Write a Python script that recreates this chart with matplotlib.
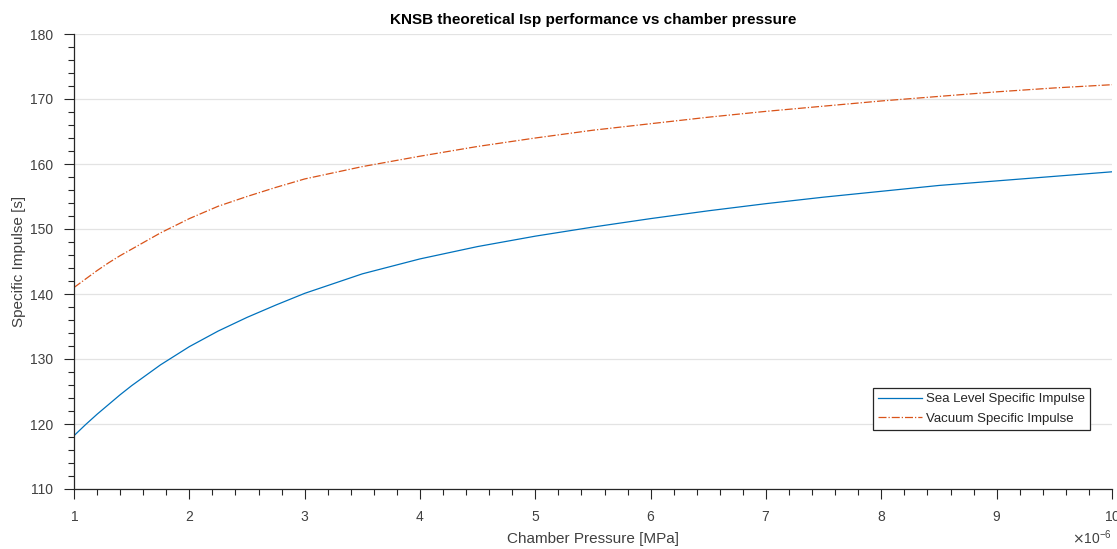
import matplotlib
matplotlib.use("Agg")
import matplotlib.pyplot as plt
import numpy as np
from matplotlib.ticker import MultipleLocator, ScalarFormatter

# chamber pressure (axis shows values x 1e-6)
pc = [1.0, 1.1, 1.2, 1.3, 1.4, 1.5, 1.75, 2.0, 2.25, 2.5, 2.75, 3.0, 3.5, 4.0, 4.5,
      5.0, 5.5, 6.0, 6.5, 7.0, 7.5, 8.0, 8.5, 9.0, 9.5, 10.0]
isp_sea = [118.2, 119.9, 121.5, 123.0, 124.5, 125.9, 129.1, 131.9, 134.3, 136.4, 138.3, 140.1, 143.1,
           145.4, 147.3, 148.9, 150.3, 151.6, 152.8, 153.9, 154.9, 155.8, 156.7, 157.4, 158.1, 158.8]
isp_vac = [141.0, 142.3, 143.6, 144.8, 145.9, 146.9, 149.4, 151.6, 153.5, 155.0, 156.4, 157.7, 159.6,
           161.2, 162.7, 164.0, 165.2, 166.2, 167.2, 168.1, 168.9, 169.7, 170.4, 171.1, 171.7, 172.2]

plt.rcParams['font.family'] = ['Liberation Sans', 'DejaVu Sans']
axcol = '#262626'
txtcol = '#404040'

fig = plt.figure(figsize=(11.17, 5.49), dpi=100)
ax = fig.add_axes([74/1117, 1-489/549, (1112-74)/1117, (489-34)/549])

x = np.array(pc) * 1e-6
ax.plot(x, isp_sea, color='#0072BD', lw=0.9, label='Sea Level Specific Impulse')
ax.plot(x, isp_vac, color='#D95319', lw=0.9, ls='-.', label='Vacuum Specific Impulse')

ax.set_xlim(1e-6, 10e-6)
ax.set_ylim(110, 180)
ax.xaxis.set_major_locator(MultipleLocator(1e-6))
ax.xaxis.set_minor_locator(MultipleLocator(0.2e-6))
ax.yaxis.set_major_locator(MultipleLocator(10))
ax.yaxis.set_minor_locator(MultipleLocator(2))
fmt = ScalarFormatter(useMathText=True)
fmt.set_powerlimits((-6, -6))
ax.xaxis.set_major_formatter(fmt)

ax.grid(axis='y', which='major', color='#e3e3e3', lw=0.9)
ax.set_axisbelow(True)
for s in ['top', 'right']:
    ax.spines[s].set_visible(False)
for s in ['left', 'bottom']:
    ax.spines[s].set_color(axcol)
    ax.spines[s].set_linewidth(0.9)
ax.tick_params(which='major', direction='out', length=7, width=0.8, color=axcol,
               labelcolor=txtcol, labelsize=10, pad=8)
ax.tick_params(which='minor', direction='out', length=4, width=0.8, color=axcol)
ax.xaxis.get_offset_text().set_fontsize(10)
ax.xaxis.get_offset_text().set_color(txtcol)

ax.set_title('KNSB theoretical Isp performance vs chamber pressure', fontsize=11, fontweight='bold', pad=7)
ax.set_xlabel('Chamber Pressure [MPa]', fontsize=11, color=txtcol, labelpad=6)
ax.set_ylabel('Specific Impulse [s]', fontsize=11, color=txtcol, labelpad=3)

leg = ax.legend(loc='lower right', bbox_to_anchor=(0.9788, 0.1297), borderaxespad=0,
                fontsize=9.5, fancybox=False, edgecolor=axcol, framealpha=1,
                borderpad=0.4, handlelength=3.3, handletextpad=0.3, labelspacing=0.55)
leg.get_frame().set_linewidth(0.9)
for t in leg.get_texts():
    t.set_color('#262626')

fig.savefig('out.png', dpi=100)
